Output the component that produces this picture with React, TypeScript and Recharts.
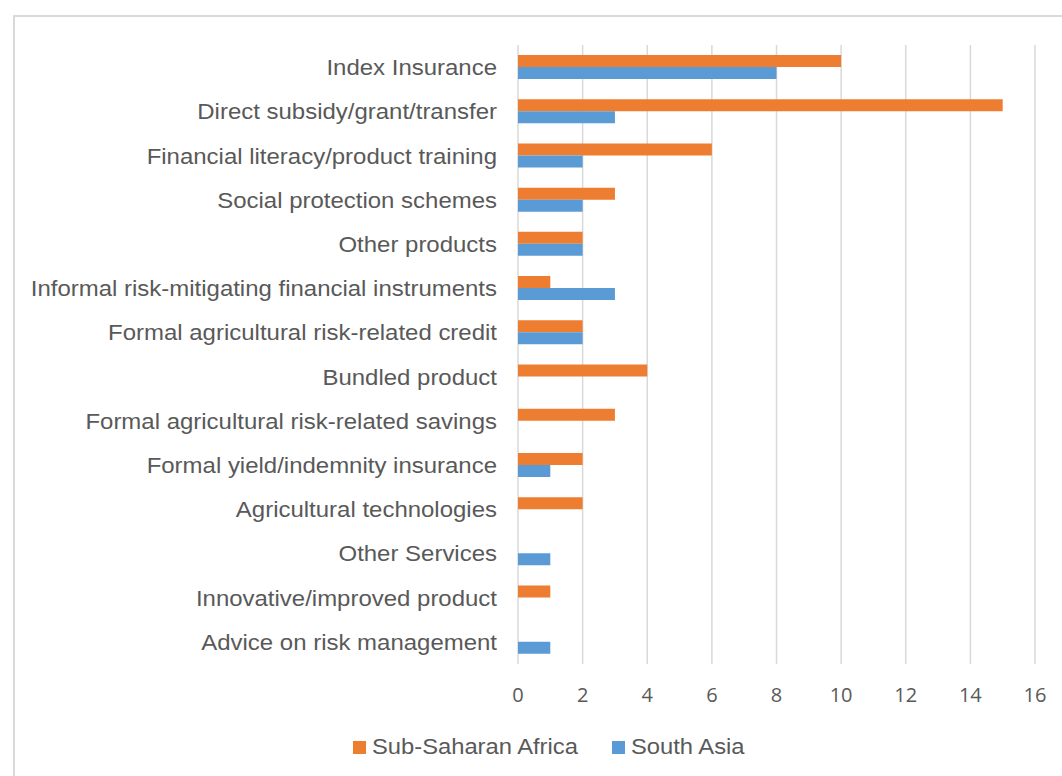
import React from "react";
import { BarChart, Bar, XAxis, YAxis, CartesianGrid, Legend } from "recharts";

const categories = [
  "Index Insurance",
  "Direct subsidy/grant/transfer",
  "Financial literacy/product training",
  "Social protection schemes",
  "Other products",
  "Informal risk-mitigating financial instruments",
  "Formal agricultural risk-related credit",
  "Bundled product",
  "Formal agricultural risk-related savings",
  "Formal yield/indemnity insurance",
  "Agricultural technologies",
  "Other Services",
  "Innovative/improved product",
  "Advice on risk management",
];
const subSaharanAfrica = [10, 15, 6, 3, 2, 1, 2, 4, 3, 2, 2, 0, 1, 0];
const southAsia = [8, 3, 2, 2, 2, 3, 2, 0, 0, 1, 0, 1, 0, 1];
const xTicks = [0, 2, 4, 6, 8, 10, 12, 14, 16];
const seriesNames = ["Sub-Saharan Africa", "South Asia"];
const seriesColors = ["#ED7D31", "#5B9BD5"];

const data = categories.map((name, i) => ({
  name,
  ssa: subSaharanAfrica[i],
  sa: southAsia[i],
}));

const TEXT = "#595959";
const LABEL_FONT = "'Liberation Sans', Arial, sans-serif";

const YTick = (props: any) => {
  const { x, y, payload } = props;
  return (
    <text
      x={0}
      y={0}
      transform={`translate(${x},${y}) scale(1.09,1)`}
      textAnchor="end"
      dy={8}
      fill={TEXT}
      fontSize={22}
      fontFamily={LABEL_FONT}
    >
      {payload.value}
    </text>
  );
};

const LegendContent = () => (
  <svg width={1062} height={45} style={{ display: "block" }}>
    {seriesNames.map((n, i) => {
      const sx = i === 0 ? 353 : 612;
      return (
        <g key={n}>
          <rect x={sx} y={16} width={13} height={13} fill={seriesColors[i]} />
          <text
            x={0}
            y={0}
            transform={`translate(${sx + 19},29) scale(1.08,1)`}
            fill={TEXT}
            fontSize={22}
            fontFamily={LABEL_FONT}
          >
            {n}
          </text>
        </g>
      );
    })}
  </svg>
);

export default function App() {
  return (
    <div
      style={{
        position: "absolute",
        left: 0,
        top: 0,
        width: 1062,
        height: 776,
        overflow: "hidden",
        background: "#fff",
      }}
    >
      <div
        style={{
          position: "absolute",
          left: 13,
          top: 15,
          width: 1200,
          height: 900,
          border: "2px solid #d9d9d9",
          boxSizing: "border-box",
        }}
      />
      <div style={{ position: "absolute", left: 0, top: 0 }}>
        <BarChart
          width={1062}
          height={776}
          data={data}
          layout="vertical"
          margin={{ top: 45, right: 27, bottom: 82, left: 0 }}
          barGap={0}
        >
          <CartesianGrid horizontal={false} vertical stroke="#d9d9d9" strokeWidth={1.5} />
          <XAxis
            type="number"
            domain={[0, 16]}
            ticks={xTicks}
            height={30}
            axisLine={false}
            tickLine={false}
            tickSize={0}
            tickMargin={24}
            interval={0}
            tick={{ fill: TEXT, fontSize: 20, fontFamily: "'Open Sans', sans-serif" }}
          />
          <YAxis
            type="category"
            dataKey="name"
            width={518}
            axisLine={false}
            tickLine={false}
            tickSize={0}
            tickMargin={21}
            interval={0}
            tick={<YTick />}
          />
          <Legend
            layout="horizontal"
            verticalAlign="middle"
            align="center"
            wrapperStyle={{ left: 0, top: 725, width: 1062, height: 45 }}
            content={() => <LegendContent />}
          />
          <Bar dataKey="ssa" name={seriesNames[0]} fill={seriesColors[0]} barSize={12} isAnimationActive={false} />
          <Bar dataKey="sa" name={seriesNames[1]} fill={seriesColors[1]} barSize={12} isAnimationActive={false} />
        </BarChart>
      </div>
    </div>
  );
}
